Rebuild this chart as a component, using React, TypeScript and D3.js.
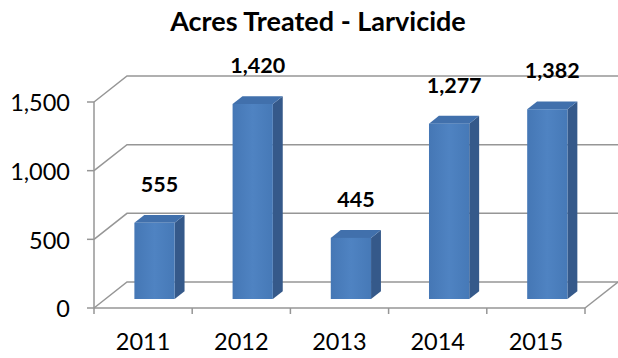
import React from "react";
import * as d3 from "d3";

const categories = ["2011", "2012", "2013", "2014", "2015"];
const values = [555, 1420, 445, 1277, 1382];
const yTicks = [0, 500, 1000, 1500];
const title = "Acres Treated - Larvicide";

const W = 618;
const H = 358;
const FONT = "Lato, 'Open Sans', sans-serif";

export default function App() {
  React.useEffect(() => {
    document.body.style.margin = "0";
  }, []);

  const x = d3
    .scaleBand<string>()
    .domain(categories)
    .range([94, 585])
    .paddingInner(0.59)
    .paddingOuter(0.295);
  const y = d3.scaleLinear().domain([0, 1500]).range([308, 102]);
  const step = x.step();
  const bw = x.bandwidth();
  const dX = 33;
  const dY = -26;
  const f0 = 0.346;
  const f1 = 0.646;
  const fmt = d3.format(",");
  const grid = "#969696";

  const P = (px: number, py: number, f: number) => [px + dX * f, py + dY * f];
  const poly = (pts: number[][]) => pts.map((p) => p.join(",")).join(" ");

  const [x0, x1] = x.range();
  const bounds = categories.map((c) => (x(c) as number) - (step - bw) / 2);
  bounds.push(x1);

  return (
    <svg
      width={W}
      height={H}
      style={{ display: "block", position: "absolute", left: 0, top: 0, background: "#fff" }}
    >
      <defs>
        <linearGradient id="frontGrad" x1="0" x2="1" y1="0" y2="0">
          <stop offset="0%" stopColor="#4577B5" />
          <stop offset="50%" stopColor="#4F83C2" />
          <stop offset="100%" stopColor="#4679B7" />
        </linearGradient>
      </defs>
      <rect x={0} y={0} width={W} height={H} fill="#fff" />
      <text
        x={318}
        y={31}
        textAnchor="middle"
        fontFamily={FONT}
        fontWeight="bold"
        fontSize={27}
        fill="#000"
      >
        {title}
      </text>

      {yTicks.map((t) => {
        const a = P(x0, y(t), 0);
        const b = P(x0, y(t), 1);
        const c = P(x1, y(t), 1);
        return (
          <g key={"g" + t}>
            <polyline
              points={poly([a, b, c])}
              fill="none"
              stroke={grid}
              strokeWidth={1.5}
            />
            <line x1={x0 - 7} x2={x0} y1={y(t)} y2={y(t)} stroke={grid} strokeWidth={1.5} />
            <text
              x={70}
              y={y(t) + 1}
              dy="0.35em"
              textAnchor="end"
              fontFamily={FONT}
              fontSize={23.5}
              fill="#000"
            >
              {fmt(t)}
            </text>
          </g>
        );
      })}
      <line
        x1={x1}
        y1={y(0)}
        x2={P(x1, y(0), 1)[0]}
        y2={P(x1, y(0), 1)[1]}
        stroke={grid}
        strokeWidth={1.5}
      />
      <line x1={x0} x2={x0} y1={y(0)} y2={y(1500)} stroke={grid} strokeWidth={1.5} />
      <line x1={x0} x2={x1} y1={y(0)} y2={y(0)} stroke={grid} strokeWidth={1.5} />
      {bounds.map((b, i) => (
        <line key={"t" + i} x1={b} x2={b} y1={y(0)} y2={y(0) + 6} stroke={grid} strokeWidth={1.5} />
      ))}

      {categories.map((c, i) => {
        const v = values[i];
        const bx = x(c) as number;
        const front = P(bx, y(v), f0);
        const frontBottom = P(bx, y(0), f0);
        const side = [
          P(bx + bw, y(v), f0),
          P(bx + bw, y(v), f1),
          P(bx + bw, y(0), f1),
          P(bx + bw, y(0), f0),
        ];
        const top = [
          P(bx, y(v), f0),
          P(bx + bw, y(v), f0),
          P(bx + bw, y(v), f1),
          P(bx, y(v), f1),
        ];
        return (
          <g key={c}>
            <polygon points={poly(side)} fill="#35598A" />
            <polygon points={poly(top)} fill="#4170AC" />
            <rect
              x={front[0]}
              y={front[1]}
              width={bw}
              height={frontBottom[1] - front[1]}
              fill="url(#frontGrad)"
            />
            <text
              x={front[0] + bw / 2 + 5}
              y={front[1] - 31}
              textAnchor="middle"
              fontFamily={FONT}
              fontWeight="bold"
              fontSize={21.5}
              fill="#000"
            >
              {fmt(v)}
            </text>
            <text
              x={bx + bw / 2}
              y={350}
              textAnchor="middle"
              fontFamily={FONT}
              fontSize={23.5}
              fill="#000"
            >
              {c}
            </text>
          </g>
        );
      })}
    </svg>
  );
}
